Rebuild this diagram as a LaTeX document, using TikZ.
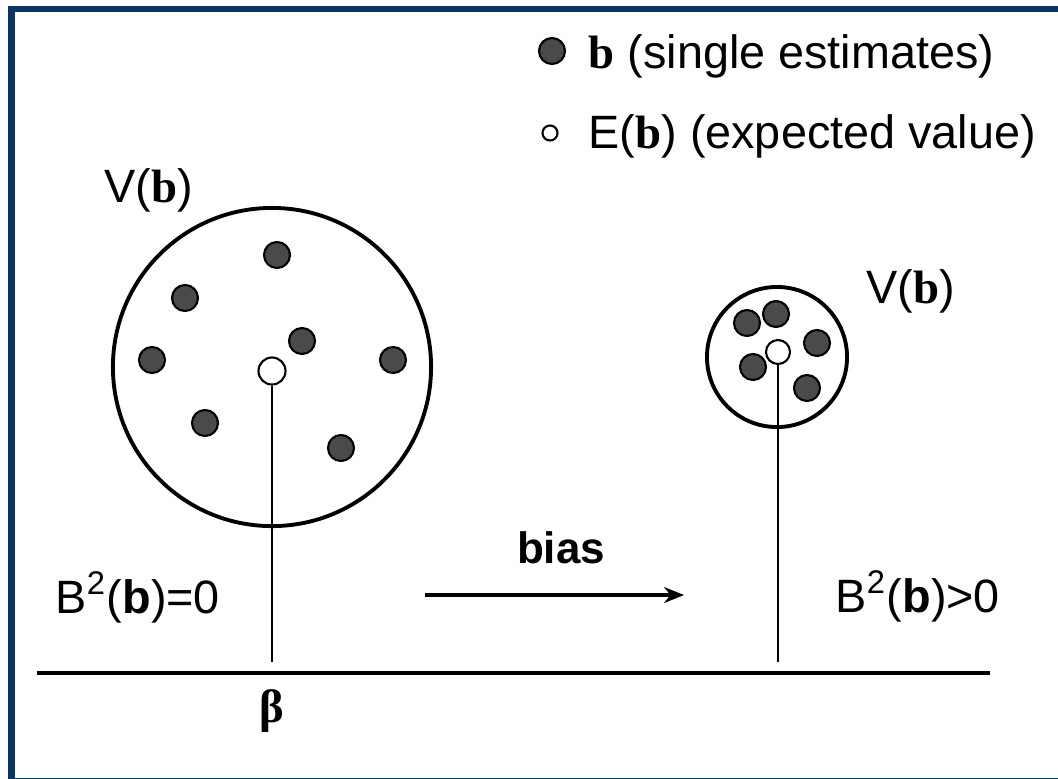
\documentclass[tikz,border=0pt]{standalone}
\usepackage{fontspec}
\setmainfont{Liberation Sans}
\newfontfamily\serfont{Liberation Serif}
\usepackage{xcolor}
\usetikzlibrary{positioning, arrows.meta}
\definecolor{frame}{HTML}{0A3566}
\definecolor{dotfill}{HTML}{4A4A4A}
\newcommand{\bvec}{{\serfont\bfseries b}}

\begin{document}
\begin{tikzpicture}[x=0.01cm, y=-0.01cm,
        est/.style={circle, draw=black, fill=dotfill, line width=0.6pt,
                    minimum size=0.26cm, inner sep=0pt},
        ev/.style={circle, draw=black, fill=white, line width=0.6pt,
                   minimum size=0.27cm, inner sep=0pt},
        spread/.style={circle, draw=black, line width=1.1pt, inner sep=0pt},
        lbl/.style={font=\fontsize{13.3}{16}\selectfont, inner sep=0pt}
      ]
        \useasboundingbox (0,0) rectangle (1058,778);
        \fill[white] (-20,-20) rectangle (1080,800);
        \clip (-20,-20) rectangle (1058,778);
        \draw[frame, line width=0.065cm] (11.5,9) rectangle (1095,780.8);

        % legend
        \node[est] (keyest) at (552,51) {};
        \node[ev, minimum size=0.15cm] (keyev) at (550,133) {};
        \node[lbl, anchor=base west] (keyestlbl) at (588,68) {\bvec\ (single estimates)};
        \node[lbl, anchor=base west] (keyevlbl) at (588,148) {E(\bvec) (expected value)};

        % unbiased estimator
        \node[spread, minimum size=3.18cm] (wide) at (272,367) {};
        \node[lbl, anchor=base west] (vwide) at (104,202) {V(\bvec)};
        \foreach \p [count=\i] in {(277,255), (185,298), (302,341), (152,360),
                                   (393,360), (205,423), (341,448)}
          \node[est] (e\i) at \p {};
        \node[ev] (evwide) at (272,371) {};

        % biased estimator
        \node[spread, minimum size=1.4cm] (narrow) at (777,357) {};
        \node[lbl, anchor=base west] (vnarrow) at (866,303) {V(\bvec)};
        \foreach \p [count=\i] in {(747,323), (776,314), (817,343),
                                   (753,367), (807,388)}
          \node[est] (f\i) at \p {};
        \node[ev, minimum size=0.24cm] (evnarrow) at (778,352) {};

        % axis
        \coordinate (axisL) at (37,673);
        \coordinate (axisR) at (990,673);
        \coordinate (footwide) at (272,662);
        \coordinate (footnarrow) at (778,662);
        \draw[line width=1.4pt] (axisL) -- (axisR);
        \draw[line width=0.8pt] (evwide) -- (footwide);
        \draw[line width=0.8pt] (evnarrow) -- (footnarrow);
        \node[lbl, anchor=base] (beta) at (272,722) {\serfont\bfseries β};

        \node[lbl, anchor=base west] (bzero) at (55,613) {B\textsuperscript{2}(\textbf{b})=0};
        \node[lbl, anchor=base west] (bpos) at (835,612) {B\textsuperscript{2}(\textbf{b})>0};

        % bias arrow
        \coordinate (biasL) at (425,595);
        \coordinate (biasR) at (684,595);
        \draw[-{Stealth[length=0.2cm, width=0.16cm]}, line width=0.9pt] (biasL) -- (biasR);
        \node[lbl, anchor=base, font=\fontsize{12.5}{14}\selectfont\bfseries] (bias) at (561,563) {bias};
      \end{tikzpicture}
\end{document}
